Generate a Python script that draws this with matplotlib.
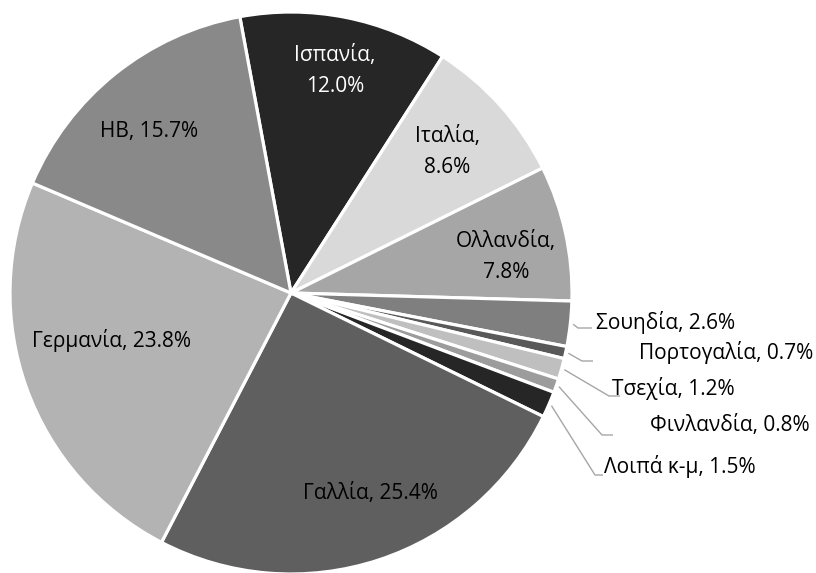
import matplotlib
matplotlib.use("Agg")
import matplotlib.pyplot as plt
import numpy as np

# Export shares by destination country (%)
countries = ["Ισπανία", "Ιταλία", "Ολλανδία", "Σουηδία", "Πορτογαλία", "Τσεχία",
             "Φινλανδία", "Λοιπά κ-μ", "Γαλλία", "Γερμανία", "ΗΒ"]
shares = [12.0, 8.6, 7.8, 2.6, 0.7, 1.2, 0.8, 1.5, 25.4, 23.8, 15.7]
colors = ["#262626", "#d9d9d9", "#a6a6a6", "#7f7f7f", "#595959", "#bfbfbf",
          "#9c9c9c", "#262626", "#5f5f5f", "#b3b3b3", "#898989"]

plt.rcParams["font.family"] = ["Open Sans", "DejaVu Sans"]

W, H = 816, 573
cx, cy, R = 291, 293, 281          # pie centre and radius in pixels

fig = plt.figure(figsize=(W / 100, H / 100), dpi=100)
ax = fig.add_axes([(cx - R) / W, (H - cy - R) / H, 2 * R / W, 2 * R / H])

wedges, _ = ax.pie(shares, colors=colors, startangle=100.5, counterclock=False,
                   radius=1, wedgeprops=dict(edgecolor="white", linewidth=2.3))
for w in wedges:
    w.set_clip_on(False)
ax.set_xlim(-1, 1)
ax.set_ylim(-1, 1)
ax.set_aspect("equal")
ax.axis("off")


def to_data(x, y):
    return (x - cx) / R, (cy - y) / R


fs = 15

# labels drawn inside the larger slices: (index, x, y, two lines?, colour)
inside = [
    (0, 335, 71, True, "white"),
    (1, 447, 152, True, "black"),
    (2, 506, 257, True, "black"),
    (8, 370, 493, False, "black"),
    (9, 111, 341, False, "black"),
    (10, 149, 131, False, "black"),
]
for i, x, y, two, col in inside:
    sep = ",\n" if two else ", "
    tx, ty = to_data(x, y)
    ax.text(tx, ty, f"{countries[i]}{sep}{shares[i]:.1f}%", ha="center", va="center",
            fontsize=fs, color=col, linespacing=1.6)

# small slices: labels to the right with leader lines
outside = [
    # index, elbow (x, y), line end x, text start x, text centre y
    (3, (578, 328), 592, 596, 323),
    (4, (582, 361), 593, 639, 352),
    (5, (609, 396), 620, 612, 389),
    (6, (602, 435), 613, 650, 426),
    (7, (595, 475), 603, 604, 467),
]
for i, elbow, xend, tx_px, ty_px in outside:
    w = wedges[i]
    mid = np.deg2rad((w.theta1 + w.theta2) / 2)
    sx, sy = 1.01 * np.cos(mid), 1.01 * np.sin(mid)
    ex, ey = to_data(*elbow)
    fx, fy = to_data(xend, elbow[1])
    ax.plot([sx, ex, fx], [sy, ey, fy], color="#a6a6a6", lw=1.0, clip_on=False,
            solid_capstyle="butt")
    tx, ty = to_data(tx_px, ty_px)
    ax.text(tx, ty, f"{countries[i]}, {shares[i]:.1f}%", ha="left", va="center",
            fontsize=fs, color="black")

fig.savefig("out.png", dpi=100, facecolor="white")
